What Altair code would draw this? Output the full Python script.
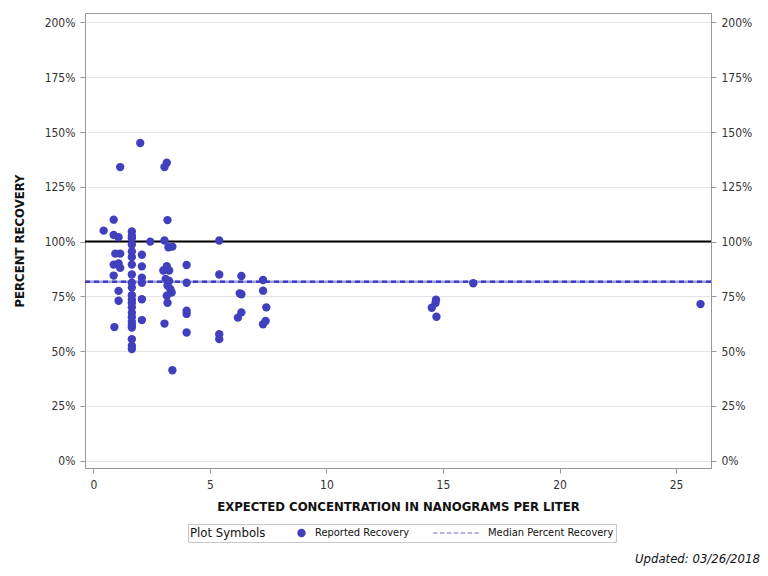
import altair as alt
import pandas as pd

# Expected concentration (ng/L)
conc = [
    0.44, 0.87, 0.87, 0.94, 0.87, 0.87, 0.90,
    1.08, 1.15, 1.15, 1.08, 1.15, 1.08, 1.08,
    1.65, 1.65, 1.65, 1.65, 1.65, 1.65, 1.65, 1.65, 1.65, 1.65, 1.65,
    1.65, 1.65, 1.65, 1.65, 1.65, 1.65, 1.65, 1.65, 1.65, 1.65, 1.65,
    2.01, 2.08, 2.08, 2.08, 2.08, 2.08, 2.08, 2.44,
    3.05, 3.15, 3.18, 3.05, 3.22, 3.39, 3.15, 3.00, 3.25, 3.10, 3.25,
    3.18, 3.30, 3.36, 3.15, 3.18, 3.05, 3.39,
    4.00, 4.00, 4.00, 4.00, 4.00,
    5.40, 5.40, 5.40, 5.40,
    6.35, 6.28, 6.35, 6.35, 6.20,
    7.28, 7.28, 7.42, 7.39, 7.28,
    14.70, 14.68, 14.52, 14.72,
    16.30, 26.05,
]
# Percent recovery
recovery = [
    105, 110, 103, 94.5, 89.5, 84.5, 61,
    102, 134, 94.5, 90, 88, 77.5, 73,
    104.6, 102.7, 101.5, 98.6, 95.5, 93, 89.5, 85, 81.2, 79, 75.5,
    73.5, 72, 70, 67.5, 65.5, 63.5, 62, 60.8, 55.5, 52.5, 51,
    145, 94, 88.7, 83.5, 81.2, 73.7, 64.2, 100,
    134, 136, 109.8, 100.5, 97.4, 97.7, 88.8, 86.8, 86.8, 83, 82,
    80, 78.4, 76.8, 75.3, 72.1, 62.6, 41.3,
    89.3, 81.2, 68.5, 67, 58.5,
    100.5, 85, 57.7, 55.5,
    84.3, 76.4, 76, 67.7, 65.3,
    82.5, 77.6, 70, 63.8, 62.3,
    73.5, 72, 69.8, 65.7,
    81, 71.5,
]
median_value = [81.7]
reference_value = [100]
y_ticks = [0, 25, 50, 75, 100, 125, 150, 175, 200]
x_ticks = [0, 5, 10, 15, 20, 25]
series = ["Reported Recovery", "Median Percent Recovery"]

FONT = "'Liberation Sans Narrow', 'DejaVu Sans Condensed', 'Liberation Sans', sans-serif"
BLUE = "#4040BF"
LIGHT = "#9C9CE6"

# dashed-line legend glyph (filled thin dashes, unit coordinates)
dash_path = " ".join(
    f"M{a:.2f},-0.035H{a + 0.2:.2f}V0.035H{a:.2f}Z" for a in [-1.0, -0.7, -0.4, -0.1, 0.2, 0.5, 0.8]
)

df = pd.DataFrame({"conc": conc, "rec": recovery, "series": series[0]})
med_df = pd.DataFrame({"rec": median_value})
ref_df = pd.DataFrame({"rec": reference_value})

xscale = alt.Scale(domain=[-0.36, 26.5], nice=False, zero=False)
yscale = alt.Scale(domain=[-3.3, 204.3], nice=False, zero=False)

xaxis = alt.Axis(values=x_ticks, title="EXPECTED CONCENTRATION IN NANOGRAMS PER LITER",
                 grid=False, labelFontSize=12, titleFontSize=13, titleFont=FONT,
                 labelFont=FONT, titleFontWeight="bold", titlePadding=10,
                 labelPadding=6, tickSize=5, labelColor="#333", titleColor="#111")
yaxis_left = alt.Axis(values=y_ticks, title="PERCENT RECOVERY", labelExpr="datum.value + '%'",
                      grid=True, gridColor="#E4E4E4", labelFontSize=12, titleFontSize=13,
                      titleFont=FONT, labelFont=FONT, titleFontWeight="bold",
                      titlePadding=18, labelPadding=5, tickSize=5, labelColor="#333",
                      titleColor="#111")
yaxis_right = alt.Axis(values=y_ticks, title=None, orient="right", labelExpr="datum.value + '%'",
                       grid=False, labelFontSize=12, labelFont=FONT, labelPadding=5,
                       tickSize=5, labelColor="#333")


def make_legend():
    return alt.Legend(
        title="Plot Symbols", titleOrient="left", orient="none", legendX=103, legendY=511,
        direction="horizontal", titleFontSize=13, titleFontWeight="normal", titleFont=FONT,
        titleColor="#111", labelFont=FONT, labelFontSize=11, labelColor="#111",
        strokeColor="#C8C8C8", padding=2, columnPadding=22, titlePadding=30,
        symbolOpacity=1, clipHeight=14, labelOffset=8,
    )


ref_rule = alt.Chart(ref_df).mark_rule(color="black", strokeWidth=2).encode(
    y=alt.Y("rec:Q", scale=yscale, axis=yaxis_left)
)
med_bg = alt.Chart(med_df).mark_rule(color=LIGHT, strokeWidth=2.5).encode(
    y=alt.Y("rec:Q", scale=yscale)
)
med_dash = alt.Chart(med_df).mark_rule(color=BLUE, strokeWidth=2.5, strokeDash=[5, 4]).encode(
    y=alt.Y("rec:Q", scale=yscale)
)
points = alt.Chart(df).mark_point(filled=True, opacity=1).encode(
    x=alt.X("conc:Q", scale=xscale, axis=xaxis),
    y=alt.Y("rec:Q", scale=yscale),
    color=alt.Color("series:N", scale=alt.Scale(domain=series, range=[BLUE, LIGHT]),
                    legend=make_legend()),
    shape=alt.Shape("series:N", scale=alt.Scale(domain=series, range=["circle", dash_path]),
                    legend=make_legend()),
    size=alt.Size("series:N", scale=alt.Scale(domain=series, range=[70, 2100]),
                  legend=make_legend()),
)
left = alt.layer(ref_rule, med_bg, med_dash, points)
right = alt.Chart(ref_df).mark_rule(opacity=0).encode(
    y=alt.Y("rec:Q", scale=yscale, axis=yaxis_right)
)

chart = alt.layer(left, right).resolve_scale(y="independent").properties(
    width=626, height=455,
    autosize=alt.AutoSizeParams(type="none"),
    padding={"left": 77, "top": 5, "right": 49, "bottom": 106},
    title=alt.TitleParams("Updated: 03/26/2018", orient="bottom", anchor="end",
                          fontStyle="italic", fontWeight="normal", fontSize=13, font=FONT,
                          color="#111", dx=8, offset=10),
).configure_view(stroke="#999", strokeWidth=1).configure_axis(
    domainColor="#999", tickColor="#999"
)

chart.save("out.html", embed_options={"renderer": "svg", "actions": False})
